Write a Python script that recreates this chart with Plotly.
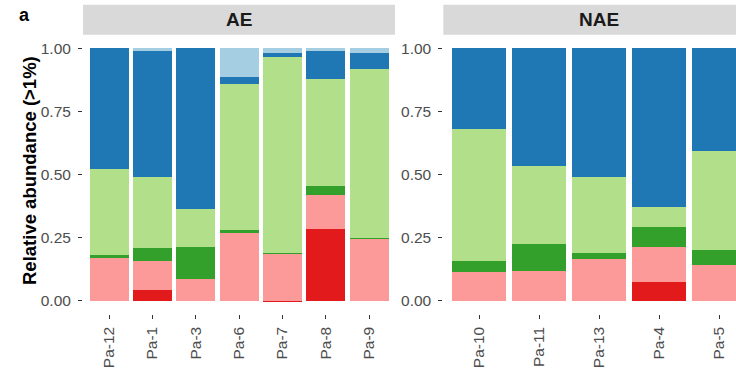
import plotly.graph_objects as go

# Samples per group
ae_samples = ["Pa-12", "Pa-1", "Pa-3", "Pa-6", "Pa-7", "Pa-8", "Pa-9"]
nae_samples = ["Pa-10", "Pa-11", "Pa-13", "Pa-4", "Pa-5"]

# Taxa (stacked bottom -> top) and their colours
taxa = ["Taxon 1", "Taxon 2", "Taxon 3", "Taxon 4", "Taxon 5", "Taxon 6"]
colors = ["#E31A1C", "#FB9A99", "#33A02C", "#B2DF8A", "#1F78B4", "#A6CEE3"]

# Relative abundance of each taxon per sample (AE group)
ae_t1 = [0.000, 0.044, 0.000, 0.000, 0.001, 0.283, 0.000]
ae_t2 = [0.170, 0.113, 0.087, 0.273, 0.188, 0.136, 0.247]
ae_t3 = [0.010, 0.051, 0.127, 0.007, 0.002, 0.037, 0.003]
ae_t4 = [0.341, 0.282, 0.149, 0.577, 0.776, 0.421, 0.668]
ae_t5 = [0.479, 0.504, 0.637, 0.030, 0.016, 0.112, 0.062]
ae_t6 = [0.000, 0.006, 0.000, 0.113, 0.017, 0.011, 0.020]

# Relative abundance of each taxon per sample (NAE group)
nae_t1 = [0.000, 0.000, 0.000, 0.075, 0.000]
nae_t2 = [0.114, 0.120, 0.166, 0.138, 0.142]
nae_t3 = [0.043, 0.106, 0.022, 0.079, 0.061]
nae_t4 = [0.523, 0.308, 0.302, 0.079, 0.389]
nae_t5 = [0.320, 0.466, 0.510, 0.629, 0.408]
nae_t6 = [0.000, 0.000, 0.000, 0.000, 0.000]

ae_values = [ae_t1, ae_t2, ae_t3, ae_t4, ae_t5, ae_t6]
nae_values = [nae_t1, nae_t2, nae_t3, nae_t4, nae_t5, nae_t6]

y_ticks = [0, 0.25, 0.5, 0.75, 1.0]
y_ticktext = ["0.00", "0.25", "0.50", "0.75", "1.00"]

W, H = 736, 369
FONT = "Liberation Sans, Arial, Helvetica, sans-serif"

fig = go.Figure()
for name, col, a_vals, n_vals in zip(taxa, colors, ae_values, nae_values):
    fig.add_trace(go.Bar(x=ae_samples, y=a_vals, name=name, marker_color=col,
                         marker_line_width=0, xaxis="x", yaxis="y",
                         showlegend=False))
    fig.add_trace(go.Bar(x=nae_samples, y=n_vals, name=name, marker_color=col,
                         marker_line_width=0, xaxis="x2", yaxis="y2",
                         showlegend=False))

# panel geometry (pixels); both panels share the same width
p1_x0, p1_x1 = 83.0, 395.0
p2_x0 = 443.3
p2_unit = (p1_x1 - p1_x0) / 5.2  # px per category in the 5-sample panel
p_top, p_bot = 35.7, 313.6

def px(x):
    return x / W

def py(y):
    return 1 - y / H

tick_font = dict(family=FONT, size=15.5, color="#4D4D4D")

xcommon = dict(type="category", showgrid=False, zeroline=False, showline=False,
               ticks="outside", ticklen=4, tickwidth=1, tickcolor="#333333",
               tickangle=-90, tickfont=tick_font, ticklabelstandoff=2)
ycommon = dict(range=[-0.05, 1.05], tickvals=y_ticks, ticktext=y_ticktext,
               showgrid=False, zeroline=False, showline=False,
               ticks="outside", ticklen=4, tickwidth=1, tickcolor="#333333",
               tickfont=tick_font, ticklabelstandoff=4,
               domain=[py(p_bot), py(p_top)])

fig.update_layout(
    width=W, height=H,
    margin=dict(l=0, r=0, t=0, b=0),
    paper_bgcolor="white", plot_bgcolor="white",
    barmode="stack", bargap=0.1,
    font=dict(family=FONT),
    xaxis=dict(xcommon, domain=[px(p1_x0), px(p1_x1)], anchor="y",
               range=[-0.6, 6.6]),
    xaxis2=dict(xcommon, domain=[px(p2_x0), 1.0], anchor="y2",
                range=[-0.6, -0.6 + (W - p2_x0) / p2_unit]),
    yaxis=dict(ycommon, anchor="x"),
    yaxis2=dict(ycommon, anchor="x2"),
)

# facet strips
strip_y0, strip_y1 = 4.7, 34.7
for x0, x1, label in [(p1_x0, p1_x1, "AE"), (p2_x0, p2_x0 + 312.0, "NAE")]:
    fig.add_shape(type="rect", xref="paper", yref="paper",
                  x0=px(x0), x1=px(x1), y0=py(strip_y1), y1=py(strip_y0),
                  fillcolor="#D9D9D9", line_width=0, layer="below")
    fig.add_annotation(xref="paper", yref="paper", x=px((x0 + x1) / 2),
                       y=py((strip_y0 + strip_y1) / 2), text=f"<b>{label}</b>",
                       showarrow=False, xanchor="center", yanchor="middle",
                       font=dict(family=FONT, size=19, color="#1A1A1A"))

# y-axis title
fig.add_annotation(xref="paper", yref="paper", x=px(29), y=py(171),
                   text="<b>Relative abundance (>1%)</b>", textangle=-90,
                   showarrow=False, xanchor="center", yanchor="middle",
                   font=dict(family=FONT, size=18.5, color="black"))

# panel tag
fig.add_annotation(xref="paper", yref="paper", x=px(17), y=py(14.5),
                   text="<b>a</b>", showarrow=False, xanchor="left",
                   yanchor="middle",
                   font=dict(family=FONT, size=18, color="black"))

fig.write_html("out.html")
